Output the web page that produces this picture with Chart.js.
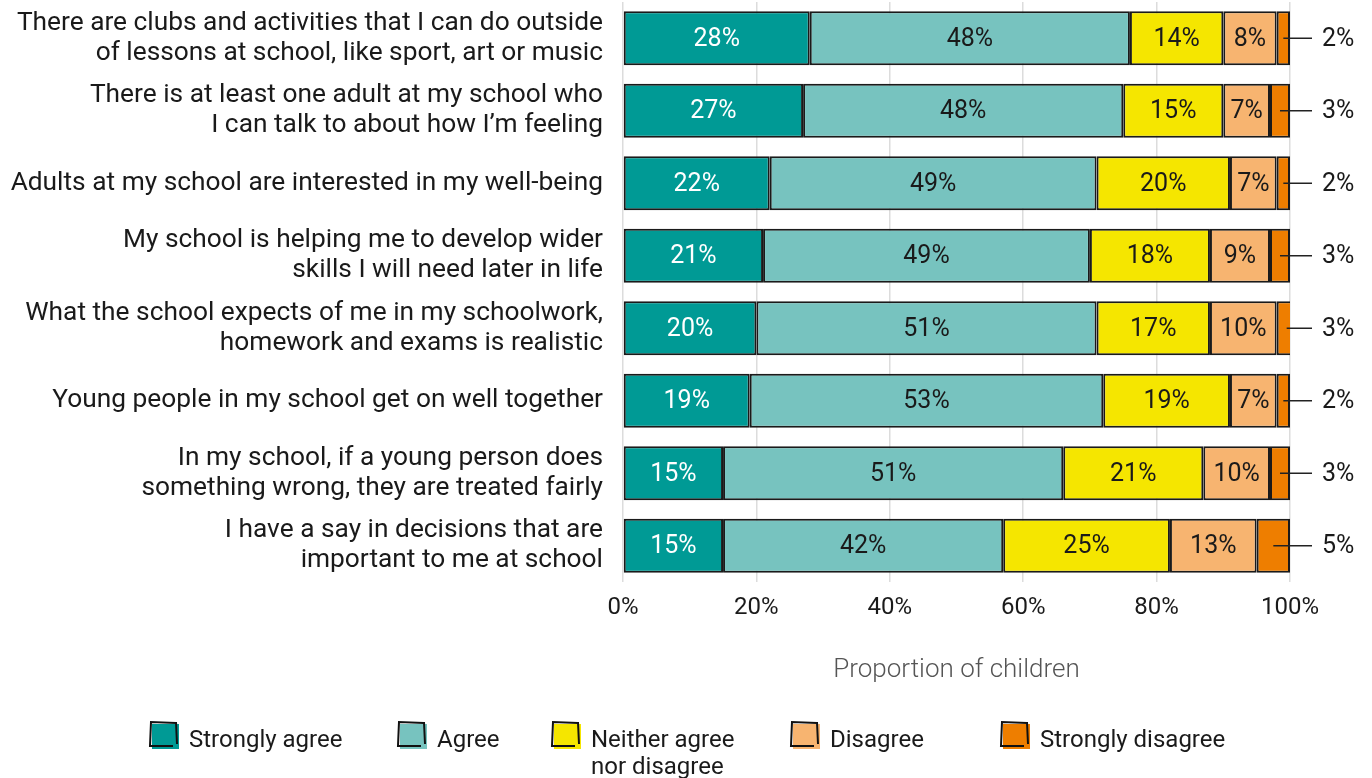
<!DOCTYPE html>
<html>
<head>
<meta charset="utf-8">
<title>School experience survey</title>
<script src="https://cdn.jsdelivr.net/npm/chart.js@4.4.1/dist/chart.umd.min.js"></script>
<style>
  html, body { margin: 0; padding: 0; background: #fff; }
  #wrap { width: 1372px; height: 778px; position: relative; }
</style>
</head>
<body>
<div id="wrap"><canvas id="surveyChart"></canvas></div>
<script>
const statements = [
    ['There are clubs and activities that I can do outside', 'of lessons at school, like sport, art or music'],
    ['There is at least one adult at my school who', 'I can talk to about how I\u2019m feeling'],
    'Adults at my school are interested in my well-being',
    ['My school is helping me to develop wider', 'skills I will need later in life'],
    ['What the school expects of me in my schoolwork,', 'homework and exams is realistic'],
    'Young people in my school get on well together',
    ['In my school, if a young person does', 'something wrong, they are treated fairly'],
    ['I have a say in decisions that are', 'important to me at school']
];

const responseLabels = ['Strongly agree', 'Agree', 'Neither agree nor disagree', 'Disagree', 'Strongly disagree'];
const stronglyAgree = [28, 27, 22, 21, 20, 19, 15, 15];
const agree = [48, 48, 49, 49, 51, 53, 51, 42];
const neither = [14, 15, 20, 18, 17, 19, 21, 25];
const disagree = [8, 7, 7, 9, 10, 7, 10, 13];
const stronglyDisagree = [2, 3, 2, 3, 3, 2, 3, 5];
const xTicks = [0, 20, 40, 60, 80, 100];

const colours = ['#009a95', '#77c3bf', '#f5e600', '#f7b470', '#ee7e00'];
const textColours = ['#ffffff', '#1a1a1a', '#1a1a1a', '#1a1a1a', '#1a1a1a'];
const FONT = "Roboto, 'Open Sans', sans-serif";

const seriesValues = [stronglyAgree, agree, neither, disagree, stronglyDisagree];

// value labels: inside each segment, last series pulled out to the right
const barLabels = {
    id: 'barLabels',
    afterDatasetsDraw(chart) {
        const ctx = chart.ctx;
        const right = chart.chartArea.right;
        ctx.save();
        ctx.font = '25px ' + FONT;
        ctx.textBaseline = 'middle';
        chart.data.datasets.forEach((ds, di) => {
            const meta = chart.getDatasetMeta(di);
            meta.data.forEach((bar, i) => {
                const v = ds.data[i];
                const mid = (bar.x + bar.base) / 2;
                if (di === seriesValues.length - 1) {
                    ctx.strokeStyle = '#222';
                    ctx.lineWidth = 1.5;
                    ctx.beginPath();
                    ctx.moveTo(mid, bar.y);
                    ctx.lineTo(right + 22, bar.y);
                    ctx.stroke();
                    ctx.fillStyle = '#1a1a1a';
                    ctx.textAlign = 'left';
                    ctx.fillText(v + '%', right + 32, bar.y + 1);
                } else {
                    ctx.fillStyle = textColours[di];
                    ctx.textAlign = 'center';
                    ctx.fillText(v + '%', mid, bar.y + 1);
                }
            });
        });
        ctx.restore();
    }
};

// legend row underneath the axis title
const legendRow = {
    id: 'legendRow',
    afterDraw(chart) {
        const ctx = chart.ctx;
        const xs = [150, 398, 552, 791, 1001];
        const y = 722;
        ctx.save();
        ctx.font = '24px ' + FONT;
        ctx.textBaseline = 'middle';
        ctx.textAlign = 'left';
        responseLabels.forEach((label, i) => {
            const x = xs[i];
            ctx.fillStyle = colours[i];
            ctx.fillRect(x + 2, y + 2, 27, 25);
            ctx.strokeStyle = '#111';
            ctx.lineWidth = 2;
            ctx.beginPath();
            ctx.moveTo(x + 26, y + 1);
            ctx.lineTo(x + 1, y);
            ctx.lineTo(x, y + 24);
            ctx.lineTo(x + 23, y + 24);
            ctx.moveTo(x + 26, y);
            ctx.lineTo(x + 27, y + 22);
            ctx.stroke();
            ctx.fillStyle = '#1a1a1a';
            if (label === 'Neither agree nor disagree') {
                ctx.fillText('Neither agree', x + 39, y + 19);
                ctx.fillText('nor disagree', x + 39, y + 46);
            } else {
                ctx.fillText(label, x + 39, y + 19);
            }
        });
        ctx.restore();
    }
};

const ctx = document.getElementById('surveyChart').getContext('2d');
new Chart(ctx, {
    type: 'bar',
    data: {
        labels: statements,
        datasets: responseLabels.map((label, i) => ({
            label: label,
            data: seriesValues[i],
            backgroundColor: colours[i],
            borderColor: '#1a1a1a',
            borderWidth: 2,
            borderSkipped: false,
            barPercentage: 0.745,
            categoryPercentage: 1
        }))
    },
    options: {
        indexAxis: 'y',
        responsive: true,
        maintainAspectRatio: false,
        animation: false,
        layout: {
            padding: { top: 2, right: 82, bottom: 92, left: 0 }
        },
        plugins: {
            legend: { display: false },
            tooltip: { enabled: false }
        },
        scales: {
            x: {
                stacked: true,
                min: 0,
                max: 100,
                afterBuildTicks: scale => {
                    scale.ticks = xTicks.map(v => ({ value: v }));
                },
                grid: {
                    color: '#dcdcdc',
                    lineWidth: 1.5,
                    drawTicks: false
                },
                border: { display: false },
                ticks: {
                    padding: 12,
                    color: '#1a1a1a',
                    font: { family: FONT, size: 24 },
                    callback: v => v + '%'
                },
                title: {
                    display: true,
                    text: 'Proportion of children',
                    color: '#555',
                    padding: { top: 20, bottom: 0 },
                    font: { family: FONT, size: 26, weight: '300' }
                }
            },
            y: {
                stacked: true,
                afterFit: scale => {
                    scale.width = 623;
                    scale.paddingTop = 0;
                    scale.paddingBottom = 0;
                },
                grid: { display: false, drawTicks: false },
                border: { display: false },
                ticks: {
                    padding: 20,
                    color: '#1a1a1a',
                    font: { family: FONT, size: 26.3, lineHeight: 1.15 }
                }
            }
        }
    },
    plugins: [barLabels, legendRow]
});
</script>
</body>
</html>
